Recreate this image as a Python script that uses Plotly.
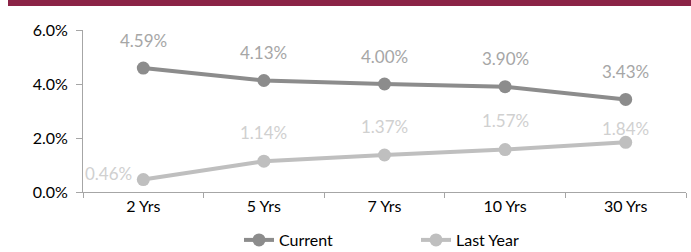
import plotly.graph_objects as go

categories = ["2 Yrs", "5 Yrs", "7 Yrs", "10 Yrs", "30 Yrs"]
current = [4.59, 4.13, 4.00, 3.90, 3.43]
last_year = [0.46, 1.14, 1.37, 1.57, 1.84]
y_ticks = [0, 2, 4, 6]
y_tick_labels = ["0.0%", "2.0%", "4.0%", "6.0%"]

FONT = "Lato"
W, H = 691, 252
L, R, T, B = 83, 5, 30, 60
PH = H - T - B
PW = W - L - R

fig = go.Figure()
fig.add_trace(go.Scatter(
    x=categories, y=current, name="Current", mode="lines+markers",
    line=dict(color="#8C8C8C", width=4), marker=dict(size=13, color="#8C8C8C"),
))
fig.add_trace(go.Scatter(
    x=categories, y=last_year, name="Last Year", mode="lines+markers",
    line=dict(color="#BFBFBF", width=4), marker=dict(size=13, color="#BFBFBF"),
))

# data labels
for c, v in zip(categories, current):
    fig.add_annotation(x=c, y=v, text=f"{v:.2f}%", showarrow=False, yshift=28,
                       font=dict(family=FONT, size=17, color="#A6A6A6"))
ly_shift = [(-9, 6, "right"), (0, 29, "center"), (0, 29, "center"), (0, 29, "center"), (0, 14, "center")]
for (c, v), (xs, ys, xa) in zip(zip(categories, last_year), ly_shift):
    fig.add_annotation(x=c, y=v, text=f"{v:.2f}%", showarrow=False, xshift=xs, yshift=ys,
                       xanchor=xa, font=dict(family=FONT, size=17, color="#D0D0D0"))

# header bar
fig.add_shape(type="rect", xref="paper", yref="paper",
              x0=(8 - L) / PW, x1=(W - L) / PW,
              y0=1 + (T - 6) / PH, y1=1 + T / PH,
              fillcolor="#8B2346", line=dict(width=0), layer="above")

fig.update_layout(
    width=W, height=H,
    margin=dict(l=L, r=R, t=T, b=B, autoexpand=False),
    plot_bgcolor="white", paper_bgcolor="white",
    font=dict(family=FONT, size=16, color="#000000"),
    showlegend=True,
    legend=dict(orientation="h", x=(239 - L) / PW, xanchor="left",
                y=-31 / PH, yanchor="top", font=dict(family=FONT, size=16, color="#000000"),
                entrywidth=132, bgcolor="rgba(0,0,0,0)"),
    xaxis=dict(type="category", range=[-0.5, 4.5], showline=True, linecolor="#A6A6A6",
               linewidth=1, ticks="outside", tickson="boundaries", ticklen=5,
               tickcolor="#A6A6A6", showgrid=False, zeroline=False, automargin=False,
               tickfont=dict(family=FONT, size=16, color="#000000")),
    yaxis=dict(range=[0, 6], tickvals=y_ticks, ticktext=y_tick_labels, showline=True,
               linecolor="#A6A6A6", linewidth=1, ticks="outside", ticklen=6,
               tickcolor="#A6A6A6", showgrid=False, zeroline=False, automargin=False,
               ticklabelstandoff=5,
               tickfont=dict(family=FONT, size=16, color="#000000")),
)

css = ("html,body{margin:0;padding:0;overflow:hidden;scrollbar-width:none;}"
       "::-webkit-scrollbar{display:none;width:0;height:0;}")
fig.write_html(
    "out.html",
    config={"displayModeBar": False},
    post_script=(
        "var s=document.createElement('style');s.textContent='" + css + "';"
        "document.head.appendChild(s);"
        "document.body.style.margin='0';"
    ),
)
